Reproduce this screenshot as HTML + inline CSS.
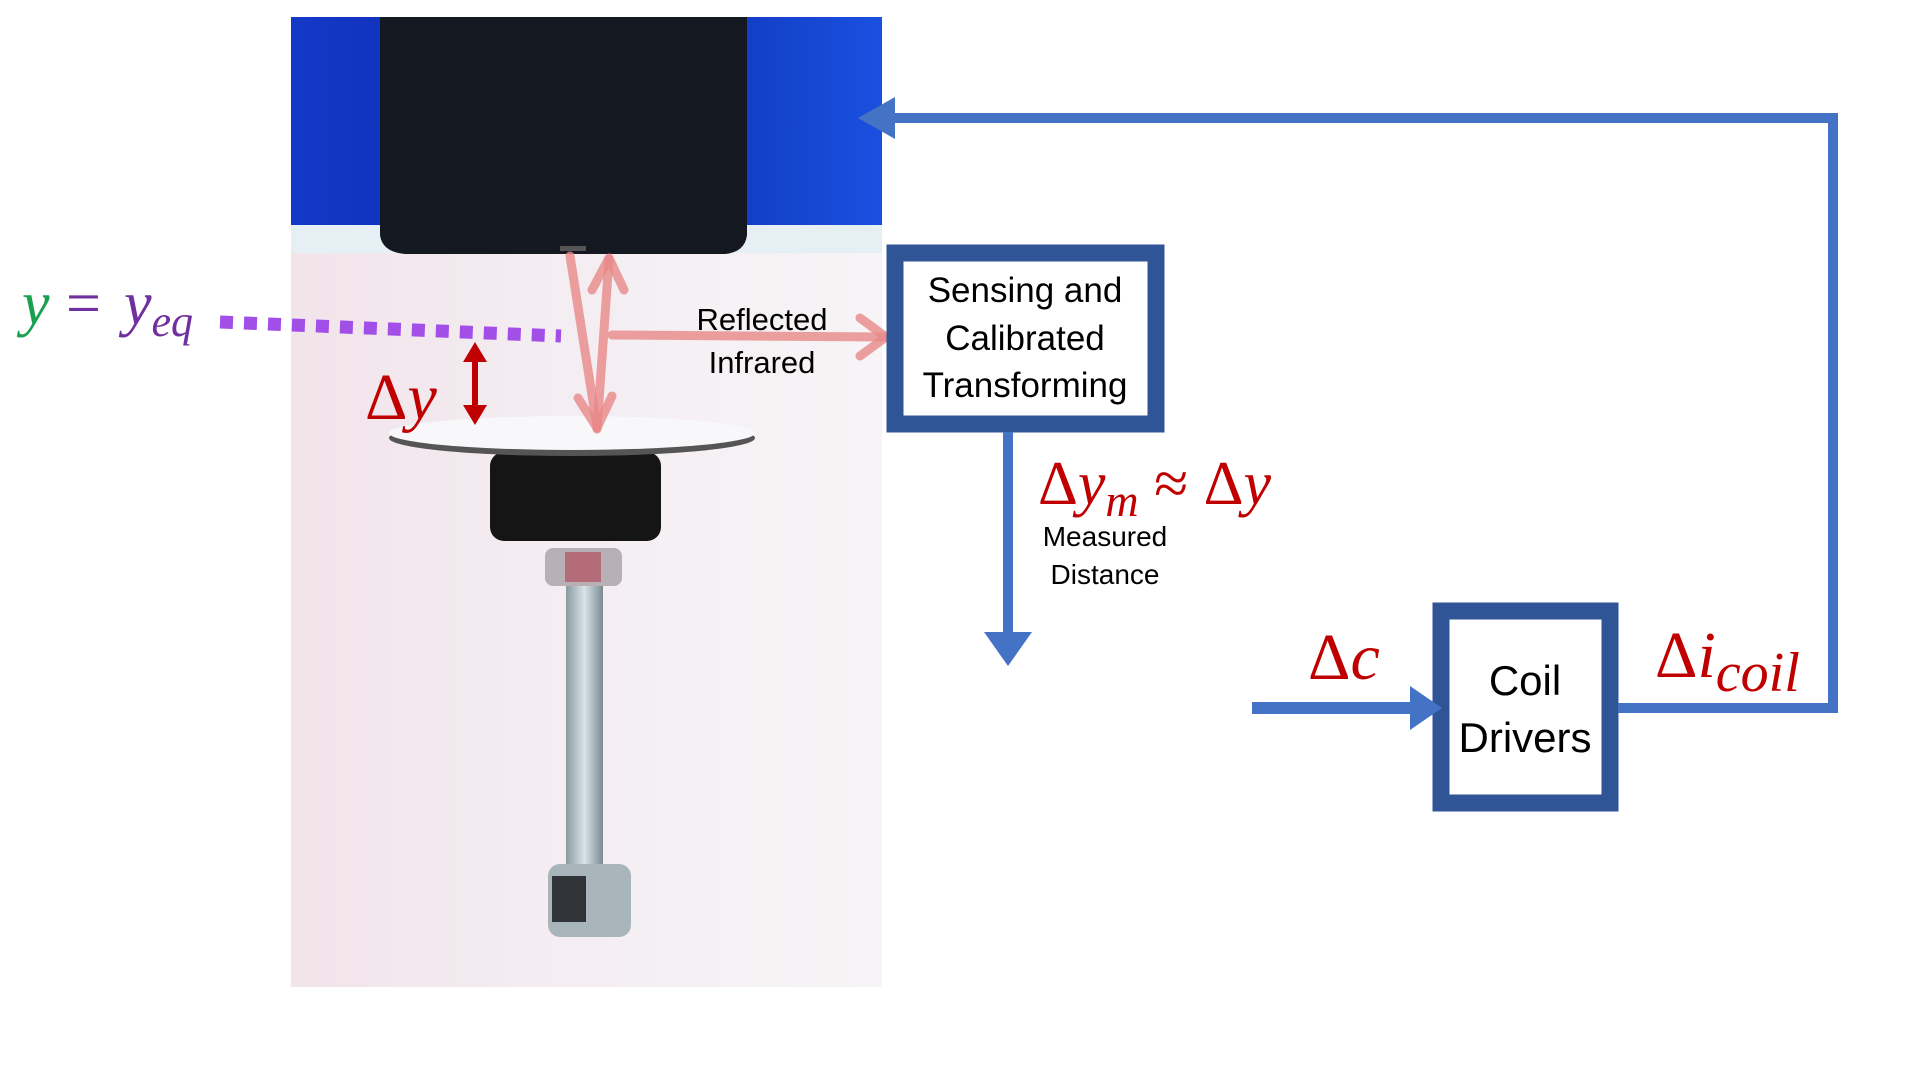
<!DOCTYPE html>
<html><head><meta charset="utf-8"><style>
html,body{margin:0;padding:0;background:#fff;}
svg{display:block;}
.t{font-family:"Liberation Sans",sans-serif;fill:#000;}
.m{font-family:"Liberation Serif",serif;font-style:italic;}
</style></head><body>
<svg width="1920" height="1080" viewBox="0 0 1920 1080" xmlns="http://www.w3.org/2000/svg">
<defs>
<linearGradient id="bg" x1="0" y1="0" x2="1" y2="0">
<stop offset="0" stop-color="#f1e4ea"/><stop offset="0.5" stop-color="#f4eef2"/><stop offset="1" stop-color="#f6f4f6"/>
</linearGradient>
<linearGradient id="blue" x1="0" y1="0" x2="1" y2="0">
<stop offset="0" stop-color="#1438c8"/><stop offset="0.5" stop-color="#0a2aa8"/><stop offset="1" stop-color="#1a50e0"/>
</linearGradient>
<linearGradient id="bolt" x1="0" y1="0" x2="1" y2="0">
<stop offset="0" stop-color="#8a9aa0"/><stop offset="0.5" stop-color="#d8e4e8"/><stop offset="1" stop-color="#7a8a90"/>
</linearGradient>
</defs>
<rect x="291" y="17" width="591" height="970" fill="url(#bg)"/>
<rect x="291" y="17" width="591" height="228" fill="url(#blue)"/>
<rect x="291" y="225" width="591" height="28" fill="#e6f0f4"/>
<path d="M380 17 H747 V235 Q745 252 725 254 H405 Q382 252 380 235 Z" fill="#141820"/>
<rect x="560" y="246" width="26" height="5" fill="#555"/>
<rect x="490" y="452" width="171" height="89" rx="14" fill="#151515"/>
<ellipse cx="572" cy="438" rx="183" ry="18" fill="#555"/>
<ellipse cx="572" cy="433" rx="183" ry="17" fill="#f8f8fa"/>
<rect x="566" y="584" width="37" height="285" fill="url(#bolt)"/>
<rect x="545" y="548" width="77" height="38" rx="8" fill="#b8b0b4"/>
<rect x="565" y="552" width="36" height="30" fill="#b04050" opacity="0.6"/>
<rect x="548" y="864" width="83" height="73" rx="12" fill="#a8b6bc"/>
<rect x="552" y="876" width="34" height="46" fill="#303438"/>
<g stroke="#e88888" stroke-opacity="0.8" stroke-width="9" fill="none" stroke-linecap="round" stroke-linejoin="round">
<line x1="570" y1="256" x2="597" y2="427"/>
<polyline points="578,398 597,428 612,396"/>
<line x1="597" y1="429" x2="609" y2="259"/>
<polyline points="592,290 609,258 624,290"/>
<line x1="612" y1="335" x2="884" y2="337"/>
<polyline points="860,318 886,337 860,356"/>
</g>
<line x1="220" y1="322" x2="561" y2="336" stroke="#a24fe8" stroke-width="13" stroke-dasharray="13,11"/>
<text x="22" y="324" class="m" font-size="62" fill="#1aa050">y</text>
<text x="66" y="324" class="m" font-size="62" fill="#7030a0" style="font-style:normal">=</text>
<text x="124" y="324" class="m" font-size="62" fill="#7030a0">y<tspan font-size="44" dy="12">eq</tspan></text>
<text x="365" y="419" class="m" font-size="66" fill="#c00000"><tspan style="font-style:normal">Δ</tspan>y</text>
<line x1="475" y1="356" x2="475" y2="410" stroke="#c00000" stroke-width="6"/>
<polygon points="475,342 463,362 487,362" fill="#c00000"/>
<polygon points="475,425 463,405 487,405" fill="#c00000"/>
<text x="762" y="330" class="t" font-size="31" text-anchor="middle">Reflected</text>
<text x="762" y="373" class="t" font-size="31" text-anchor="middle">Infrared</text>
<rect x="895" y="253" width="261" height="171" fill="#fff" stroke="#2f5597" stroke-width="17"/>
<text x="1025" y="302" class="t" font-size="35" text-anchor="middle">Sensing and</text>
<text x="1025" y="350" class="t" font-size="35" text-anchor="middle">Calibrated</text>
<text x="1025" y="397" class="t" font-size="35" text-anchor="middle">Transforming</text>
<line x1="1008" y1="432" x2="1008" y2="635" stroke="#4472c4" stroke-width="10"/>
<polygon points="984,632 1032,632 1008,666" fill="#4472c4"/>
<text x="1038" y="504" class="m" font-size="62" fill="#c00000"><tspan style="font-style:normal">Δ</tspan>y<tspan font-size="46" dy="12">m</tspan><tspan dy="-12" style="font-style:normal"> ≈ Δ</tspan>y</text>
<text x="1105" y="546" class="t" font-size="28" text-anchor="middle">Measured</text>
<text x="1105" y="584" class="t" font-size="28" text-anchor="middle">Distance</text>
<rect x="1441" y="611" width="169" height="192" fill="#fff" stroke="#2f5597" stroke-width="17"/>
<text x="1525" y="695" class="t" font-size="42" text-anchor="middle">Coil</text>
<text x="1525" y="752" class="t" font-size="42" text-anchor="middle">Drivers</text>
<line x1="1252" y1="708" x2="1415" y2="708" stroke="#4472c4" stroke-width="12"/>
<polygon points="1410,686 1410,730 1442,708" fill="#4472c4"/>
<text x="1308" y="679" class="m" font-size="66" fill="#c00000"><tspan style="font-style:normal">Δ</tspan>c</text>
<text x="1655" y="677" class="m" font-size="66" fill="#c00000"><tspan style="font-style:normal">Δ</tspan>i<tspan font-size="56" dy="14">coil</tspan></text>
<polyline points="1618,708 1833,708 1833,118 890,118" fill="none" stroke="#4472c4" stroke-width="10"/>
<polygon points="895,97 895,139 858,118" fill="#4472c4"/>
</svg>
</body></html>
